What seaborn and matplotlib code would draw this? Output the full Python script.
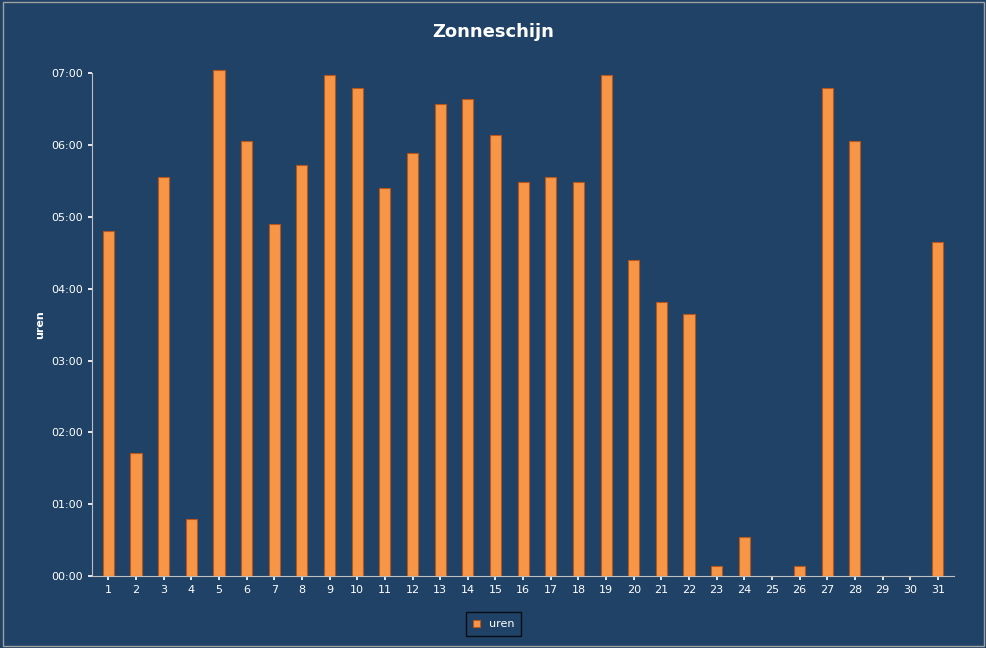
import matplotlib
matplotlib.use("Agg")
import matplotlib.pyplot as plt
import seaborn as sns
import pandas as pd
from matplotlib.ticker import FuncFormatter, MultipleLocator

# dagen en uren zonneschijn
dagen = list(range(1, 32))
uren = [4.81, 1.71, 5.55, 0.79, 7.05, 6.05, 4.90, 5.72, 6.97, 6.80,
        5.40, 5.89, 6.57, 6.64, 6.14, 5.48, 5.55, 5.48, 6.97, 4.40,
        3.81, 3.65, 0.14, 0.54, 0.0, 0.14, 6.80, 6.05, 0.0, 0.0, 4.65]

bg = "#1f4266"
fg = "white"

df = pd.DataFrame({"dag": [str(d) for d in dagen], "uren": uren})

sns.set_theme(style="white")
plt.rcParams['font.family'] = ['DejaVu Sans']

fig = plt.figure(figsize=(9.87, 6.48), dpi=100, facecolor=bg)
ax = fig.add_axes([0.093, 0.111, 0.874, 0.776])
ax.set_facecolor(bg)

sns.barplot(data=df, x="dag", y="uren", color="#f79646", width=0.4,
            edgecolor="#b8561c", linewidth=0.8, saturation=1, ax=ax,
            label="uren")
for p in ax.patches:
    p.set_clip_on(False)

ax.set_ylim(0, 7)
ax.set_xlim(-0.6, 30.6)
ax.yaxis.set_major_locator(MultipleLocator(1))
ax.yaxis.set_major_formatter(FuncFormatter(lambda v, p: f"{int(v):02d}:00"))
ax.tick_params(colors=fg, labelsize=8, length=3, direction="out",
               left=True, bottom=True)
for s in ["top", "right"]:
    ax.spines[s].set_visible(False)
for s in ["left", "bottom"]:
    ax.spines[s].set_color("#c0c0c0")
    ax.spines[s].set_linewidth(0.8)

ax.set_xlabel("")
ax.set_ylabel("uren", color=fg, fontsize=8, fontweight="bold")
fig.suptitle("Zonneschijn", color=fg, fontsize=13, fontweight="bold", x=0.5, y=0.965)

leg = fig.legend(*ax.get_legend_handles_labels(), loc="upper center",
                 bbox_to_anchor=(0.5, 0.06), frameon=True,
                 fontsize=8, handlelength=0.6, handleheight=0.6)
if ax.get_legend():
    ax.get_legend().remove()
leg.get_frame().set_facecolor(bg)
leg.get_frame().set_edgecolor("black")
leg.get_frame().set_boxstyle("square", pad=0.2)
for t in leg.get_texts():
    t.set_color(fg)

# rand om de figuur
fig.patches.append(plt.Rectangle((0.003, 0.003), 0.994, 0.994, transform=fig.transFigure,
                                 fill=False, edgecolor="#a0a0a0", linewidth=1))

fig.savefig("out.png", dpi=100, facecolor=bg)
